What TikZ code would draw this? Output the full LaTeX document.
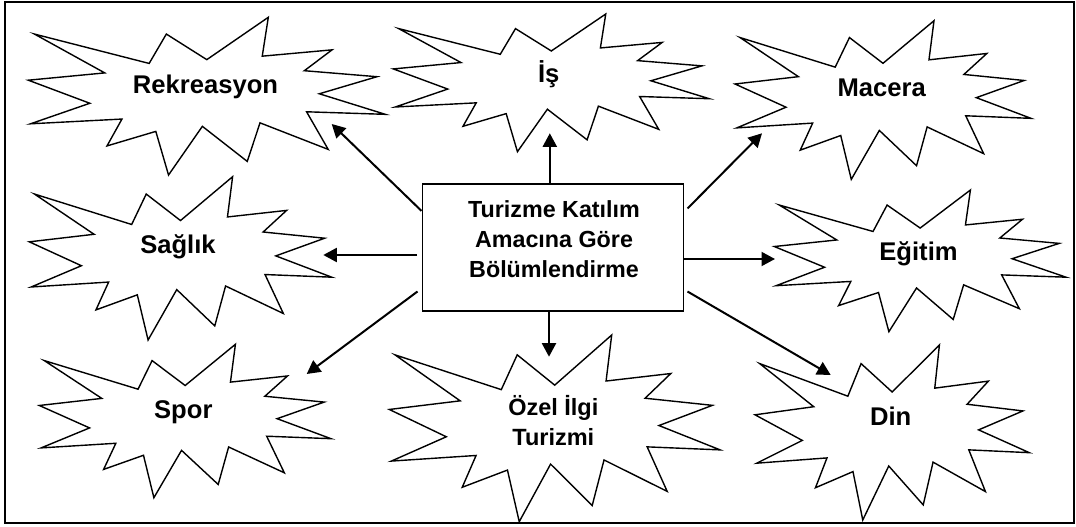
\documentclass[tikz,border=0pt]{standalone}
\usepackage{fontspec}
\setmainfont{Liberation Sans}
\usetikzlibrary{arrows.meta}
\newcommand\drawburst[4]{%
  \begin{scope}[shift={(#1,#2)},xscale=#3/100,yscale=#4/100]
    \draw[burst] (50,26.852) -- (67.231,0) -- (65.532,24.653) -- (85.093,20.634)
      -- (77.324,33.866) -- (97.671,37.671) -- (81.514,48.495) -- (100,61.528)
      -- (77.949,59.917) -- (84.005,83.773) -- (64.907,66.931) -- (61.329,91.375)
      -- (48.759,69.144) -- (39.282,100) -- (35.718,72.347) -- (22.046,81.560)
      -- (26.236,64.523) -- (0.625,67.532) -- (17.231,54.514) -- (0,39.884)
      -- (21.421,35.264) -- (1.713,10.625) -- (33.852,29.259) -- (38.667,10.625)
      -- cycle;
  \end{scope}}
\tikzset{
  burst/.style={draw=black,line width=1.4pt,line join=miter,fill=white},
  lab/.style={font=\fontsize{25.6}{30}\selectfont\bfseries,inner sep=0pt,anchor=base},
  lab2/.style={font=\fontsize{23.5}{30}\selectfont\bfseries,inner sep=0pt,align=center},
  cbox/.style={draw=black,line width=1.6pt,fill=white,minimum width=261pt,minimum height=127pt,inner sep=0pt},
  ctext/.style={font=\fontsize{23.3}{30}\selectfont\bfseries,inner sep=0pt,align=center},
  arr/.style={line width=2pt,-{Triangle[length=13.5pt,width=14pt]}},
  frame/.style={draw=black,line width=2pt}
}
\begin{document}
\begin{tikzpicture}[x=1pt,y=-1pt]
\useasboundingbox (0,0) rectangle (1076,527);
\draw[frame] (5,1.8) rectangle (1073.5,522.7);

\drawburst{28.3}{17.3}{357}{157.7}
\drawburst{393.3}{14}{316}{137.7}
\drawburst{735}{20.7}{296}{158.7}
\drawburst{29.3}{176.7}{302.4}{163.3}
\drawburst{774.3}{190}{291.7}{141.7}
\drawburst{39.3}{344.3}{291.7}{153.4}
\drawburst{389.3}{335}{330.8}{186.7}
\drawburst{755}{345}{274.3}{175}

\node[lab] (rek) at (205.5,93.5) {Rekreasyon};
\node[lab] (is) at (548.8,82.7) {İş};
\node[lab] (mac) at (881.7,96) {Macera};
\node[lab] (sag) at (178,253.3) {Sağlık};
\node[lab] (egi) at (918.5,260.7) {Eğitim};
\node[lab] (spo) at (183.3,418.3) {Spor};
\node[lab2] (oze) at (553.3,421) {Özel İlgi\\Turizmi};
\node[lab] (din) at (890.7,425) {Din};

\node[cbox] (c) at (552.8,247.5) {};
\node[ctext] (ct) at (554,239) {Turizme Katılım\\Amacına Göre\\Bölümlendirme};

\coordinate (tRek) at (331.7,124);
\coordinate (tIs) at (549.8,133.3);
\coordinate (tMac) at (762,133.3);
\coordinate (tSag) at (323.3,255);
\coordinate (tEgi) at (775,259);
\coordinate (tSpo) at (306.7,374);
\coordinate (tOze) at (549,356.7);
\coordinate (tDin) at (830.7,375);

\draw[arr] ([yshift=-27.7pt]c.north west) -- (tRek);
\draw[arr] ([xshift=-3pt]c.north) -- (tIs);
\draw[arr] ([xshift=3.4pt,yshift=-25.3pt]c.north east) -- (tMac);
\draw[arr] ([xshift=-4.3pt,yshift=-7.5pt]c.west) -- (tSag);
\draw[arr] ([yshift=-11.5pt]c.east) -- (tEgi);
\draw[arr] ([xshift=-4pt,yshift=20.3pt]c.south west) -- (tSpo);
\draw[arr] ([xshift=-3.8pt]c.south) -- (tOze);
\draw[arr] ([xshift=3.4pt,yshift=20.3pt]c.south east) -- (tDin);
\end{tikzpicture}
\end{document}
